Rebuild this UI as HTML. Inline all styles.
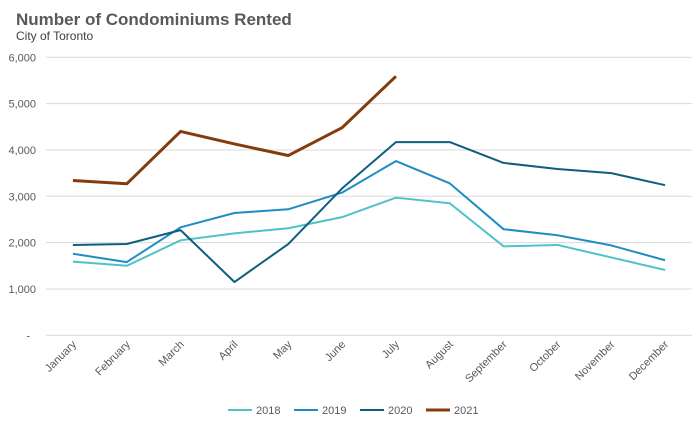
<!DOCTYPE html>
<html><head><meta charset="utf-8"><style>
body{margin:0;background:#fff;font-family:"Liberation Sans",sans-serif;}
</style></head><body>
<svg width="700" height="426" id="c">
<text x="16" y="25" font-size="17" font-weight="bold" fill="#595959">Number of Condominiums Rented</text>
<text x="16" y="40" font-size="12" fill="#404040">City of Toronto</text>
</svg>
<script>
const months=["January","February","March","April","May","June","July","August","September","October","November","December"];
const yTicks=[0,1000,2000,3000,4000,5000,6000];
const yTickLabels=["-","1,000","2,000","3,000","4,000","5,000","6,000"];
const seriesNames=["2018","2019","2020","2021"];
const s2018=[1590,1500,2050,2200,2310,2550,2970,2850,1920,1950,1680,1410];
const s2019=[1760,1580,2330,2640,2720,3080,3760,3280,2290,2160,1940,1620];
const s2020=[1950,1970,2270,1150,1970,3170,4170,4170,3720,3590,3500,3240];
const s2021=[3340,3270,4400,4130,3880,4480,5590];
const colors=["#4dc3c8","#1f8dc4","#0f5e7f","#843c0c"];
const widths=[2,2,2,3];
const svg=document.getElementById('c');const NS="http://www.w3.org/2000/svg";
const L=46,R=692,T=57.3,B=335.3;
const x=i=>L+(R-L)/12*(i+0.5);
const y=v=>B-(B-T)*v/6000;
function mk(t,a){const e=document.createElementNS(NS,t);for(const k in a)e.setAttribute(k,a[k]);svg.appendChild(e);return e;}
yTicks.forEach((v,i)=>{
 const g=mk('line',{x1:L,x2:R,y1:y(v),y2:y(v),stroke:'#d9d9d9','stroke-width':1});
 
 
 const t=mk('text',{x:i==0?30:36,y:y(v)+4,'font-size':11,fill:'#595959','text-anchor':'end'});
 t.textContent=yTickLabels[i];
 
 
});
months.forEach((m,i)=>{
 const t=mk('text',{x:x(i)+4,y:345,'font-size':11,fill:'#595959','text-anchor':'end',transform:`rotate(-45 ${x(i)+4} 345)`});
 t.textContent=m;
 
 
});
[s2018,s2019,s2020,s2021].forEach((s,k)=>{
 const p=mk('polyline',{points:s.map((v,i)=>x(i)+','+y(v)).join(' '),fill:'none',stroke:colors[k],'stroke-width':widths[k],'stroke-linejoin':'round'});
 
 
});
const lx=[228,294,360,426];
seriesNames.forEach((n,k)=>{
 const l=mk('line',{x1:lx[k],x2:lx[k]+24,y1:410,y2:410,stroke:colors[k],'stroke-width':widths[k]});
 
 
 const t=mk('text',{x:lx[k]+28,y:414,'font-size':11,fill:'#595959'});
 t.textContent=n;
 
 
});
</script>
</body></html>
